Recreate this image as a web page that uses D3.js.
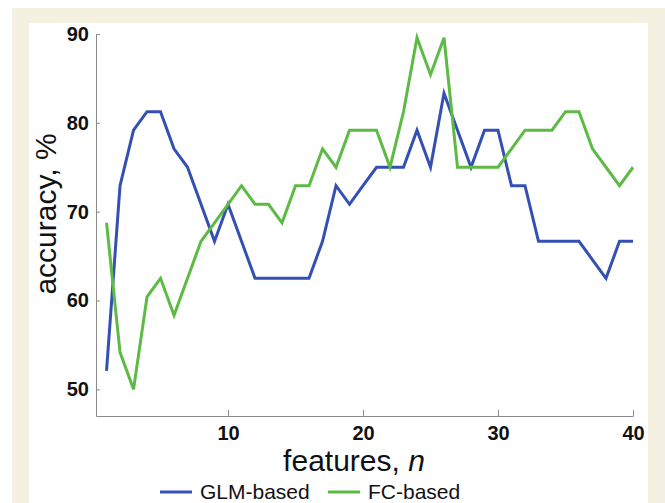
<!DOCTYPE html>
<html>
<head>
<meta charset="utf-8">
<script src="https://cdn.jsdelivr.net/npm/d3@7"></script>
<style>
  html, body { margin: 0; padding: 0; background: #ffffff; }
  svg { display: block; }
</style>
</head>
<body>
<svg id="chart" width="665" height="503"></svg>
<script>
// ---- data ----
const features = d3.range(1, 41);
const glmAccuracy = [52.08, 72.92, 79.17, 81.25, 81.25, 77.08, 75, 70.83, 66.67, 70.83,
                     66.67, 62.5, 62.5, 62.5, 62.5, 62.5, 66.67, 72.92, 70.83, 72.92,
                     75, 75, 75, 79.17, 75, 83.33, 79.17, 75, 79.17, 79.17,
                     72.92, 72.92, 66.67, 66.67, 66.67, 66.67, 64.58, 62.5, 66.67, 66.67];
const fcAccuracy = [68.75, 54.17, 50, 60.42, 62.5, 58.33, 62.5, 66.67, 68.75, 70.83,
                    72.92, 70.83, 70.83, 68.75, 72.92, 72.92, 77.08, 75, 79.17, 79.17,
                    79.17, 75, 81.25, 89.58, 85.42, 89.58, 75, 75, 75, 75,
                    77.08, 79.17, 79.17, 79.17, 81.25, 81.25, 77.08, 75, 72.92, 75];
const xTicks = [10, 20, 30, 40];
const yTicks = [50, 60, 70, 80, 90];
const seriesNames = ["GLM-based", "FC-based"];
const seriesColors = ["#3450b2", "#5dba45"];

// ---- layout ----
const svg = d3.select("#chart");
svg.append("rect").attr("x", 12).attr("y", 8).attr("width", 653).attr("height", 495).attr("fill", "#f4f1e3");
svg.append("rect").attr("x", 29).attr("y", 23).attr("width", 619).attr("height", 480).attr("fill", "#ffffff");

const x = d3.scaleLinear().domain([0.22, 40]).range([96, 633]);
const y = d3.scaleLinear().domain([47, 90]).range([416, 34]);

const axisColor = "#8a8a8a";
const tickFont = "'Liberation Sans', Arial, sans-serif";

// x axis
const xAxis = svg.append("g").attr("transform", "translate(0,416)")
  .call(d3.axisBottom(x).tickValues(xTicks).tickSizeInner(-6).tickSizeOuter(0).tickPadding(10));
xAxis.select(".domain").attr("stroke", axisColor).attr("stroke-width", 1);
xAxis.selectAll(".tick line").attr("stroke", axisColor);
xAxis.selectAll(".tick text").attr("font-family", tickFont).attr("font-weight", "bold")
  .attr("font-size", 20).attr("fill", "#111").attr("dy", "0.71em");

// y axis
const yAxis = svg.append("g").attr("transform", "translate(96,0)")
  .call(d3.axisLeft(y).tickValues(yTicks).tickSizeInner(-4).tickSizeOuter(0).tickPadding(7));
yAxis.select(".domain").attr("stroke", axisColor).attr("stroke-width", 1);
yAxis.selectAll(".tick line").attr("stroke", axisColor);
yAxis.selectAll(".tick text").attr("font-family", tickFont).attr("font-weight", "bold")
  .attr("font-size", 20).attr("fill", "#111");

// axis titles
svg.append("text").attr("transform", "translate(56,214) rotate(-90)")
  .attr("text-anchor", "middle").attr("font-family", tickFont).attr("font-size", 30)
  .attr("fill", "#111").text("accuracy, %");

const xt = svg.append("text").attr("x", 354).attr("y", 471)
  .attr("text-anchor", "middle").attr("font-family", tickFont).attr("font-size", 30).attr("fill", "#111");
xt.append("tspan").text("features, ");
xt.append("tspan").attr("font-style", "italic").text("n");

// lines
const line = d3.line().x((d, i) => x(features[i])).y(d => y(d));
[glmAccuracy, fcAccuracy].forEach((s, k) => {
  svg.append("path").datum(s).attr("d", line).attr("fill", "none")
    .attr("stroke", seriesColors[k]).attr("stroke-width", 3).attr("stroke-linejoin", "miter");
});

// legend
const legendX = [160, 328];
seriesNames.forEach((name, k) => {
  svg.append("line").attr("x1", legendX[k]).attr("x2", legendX[k] + 32)
    .attr("y1", 492).attr("y2", 492).attr("stroke", seriesColors[k]).attr("stroke-width", 3);
  svg.append("text").attr("x", legendX[k] + 40).attr("y", 499)
    .attr("font-family", tickFont).attr("font-size", 21).attr("fill", "#111").text(name);
});
</script>
</body>
</html>
